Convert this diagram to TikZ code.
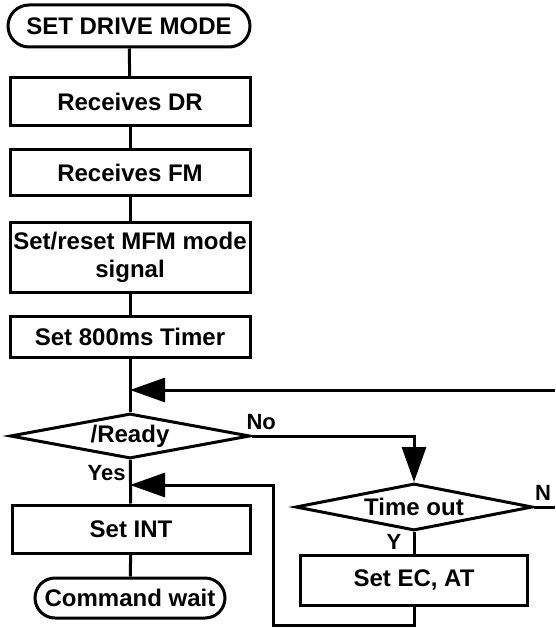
\documentclass[tikz,border=0pt]{standalone}
\usepackage{fontspec}
\setmainfont{Liberation Sans}
\usetikzlibrary{shapes.geometric,shapes.misc,arrows.meta}
\begin{document}
\begin{tikzpicture}[x=1pt,y=-1pt,
  line width=3pt,
  every node/.style={font=\bfseries\fontsize{24}{28}\selectfont, inner sep=0pt},
  procbox/.style={draw, rectangle, align=center, minimum width=240pt},
  termbox/.style={draw, rounded rectangle, align=center},
  decbox/.style={draw, diamond, align=center},
  lbl/.style={font=\bfseries\fontsize{22}{24}\selectfont},
  arr/.style={-{Triangle[length=35pt,width=24pt]}}
]
\useasboundingbox (0,0) rectangle (555,628);

\node[termbox, minimum width=242pt, minimum height=42pt] (start) at (129,26) {SET DRIVE MODE};
\node[procbox, minimum height=48pt] (dr) at (130,102) {Receives DR};
\node[procbox, minimum height=46pt] (fm) at (130,173) {Receives FM};
\node[procbox, minimum height=70pt] (mfm) at (130,257) {Set/reset MFM mode\\signal};
\node[procbox, minimum height=41pt] (timer) at (130,336.5) {Set 800ms Timer};
\node[decbox, minimum width=240pt, minimum height=45pt, aspect=5.3] (ready) at (130,436) {/Ready};
\node[procbox, minimum width=238pt, minimum height=48pt] (setint) at (131,529) {Set INT};
\node[termbox, minimum width=190pt, minimum height=40pt] (cmd) at (130,598) {Command wait};
\node[decbox, minimum width=237pt, minimum height=47pt, aspect=5] (tout) at (414,507) {Time out};
\node[procbox, minimum width=227pt, minimum height=50pt] (seteca) at (414,580) {Set EC, AT};

\coordinate (loopJ) at (130,390);
\coordinate (loopR) at (555,390);
\coordinate (yesJ) at (130,485);
\coordinate (retA) at (414,625);
\coordinate (retB) at (273,625);
\coordinate (retC) at (273,485);
\coordinate (nR) at (555,507);

\draw (start) -- (dr);
\draw (dr) -- (fm);
\draw (fm) -- (mfm);
\draw (mfm) -- (timer);
\draw (timer) -- (ready);
\draw[arr] (loopR) -- (loopJ);
\draw (ready) -- (setint);
\draw (setint) -- (cmd);
\draw[arr] (ready.east) -| (tout.north);
\draw (tout) -- (seteca);
\draw (tout.east) -- (nR);
\draw[arr] (seteca.south) -- (retA) -- (retB) -- (retC) -- (yesJ);

\node[lbl, anchor=west] (lno) at (245,422) {No};
\node[lbl, anchor=east] (lyes) at (127,473) {Yes};
\node[lbl] (ln) at (543,493) {N};
\node[lbl] (ly) at (394,542) {Y};
\end{tikzpicture}
\end{document}
